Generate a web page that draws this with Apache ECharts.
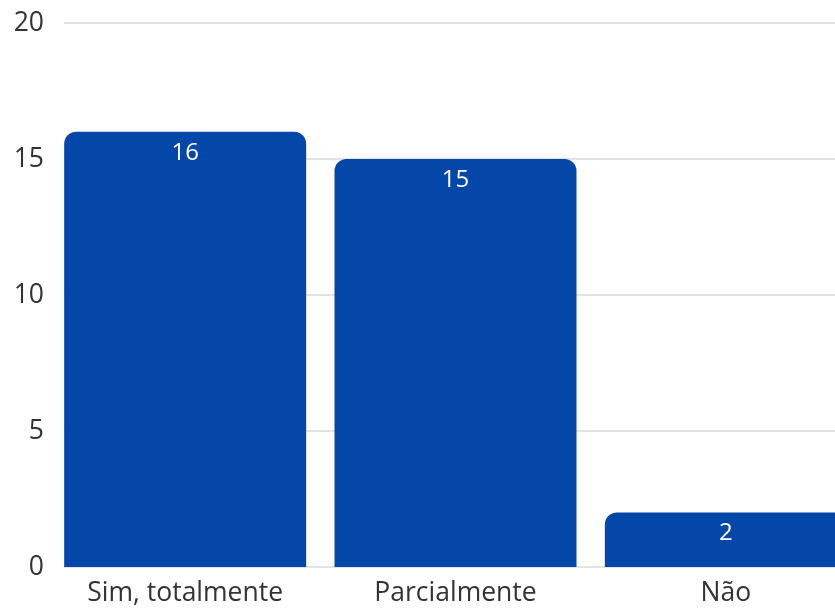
<!DOCTYPE html>
<html>
<head>
<meta charset="utf-8">
<script src="https://cdn.jsdelivr.net/npm/echarts@6/dist/echarts.min.js"></script>
<style>html,body{margin:0;padding:0;background:#fff;overflow:hidden}#c{width:861px;height:608px}</style>
</head>
<body>
<div id="c"></div>
<script>
const categories = ['Sim, totalmente', 'Parcialmente', 'Não'];
const values = [16, 15, 2];
const yTicks = [0, 5, 10, 15, 20];

const chart = echarts.init(document.getElementById('c'), null, {renderer: 'canvas'});
const font = '"Open Sans", "Noto Sans", sans-serif';
chart.setOption({
  animation: false,
  grid: [
    {left: 64, right: 0, top: 23, bottom: 41},
    {left: 50, right: 0, top: 23, bottom: 41}
  ],
  xAxis: [
    {type: 'value', gridIndex: 0, show: false, min: 0, max: 1},
    {type: 'category', gridIndex: 1, data: categories,
     axisLine: {show: false}, axisTick: {show: false},
     axisLabel: {color: '#333', fontSize: 26.5, fontFamily: font, margin: 13}}
  ],
  yAxis: [
    {type: 'value', gridIndex: 0, min: yTicks[0], max: yTicks[yTicks.length - 1], interval: 5,
     axisLine: {show: false}, axisTick: {show: false},
     axisLabel: {color: '#333', fontSize: 26.5, fontFamily: font, margin: 20},
     splitLine: {lineStyle: {color: '#e3e3e3', width: 2}}},
    {type: 'value', gridIndex: 1, min: 0, max: 20, show: false, splitLine: {show: false}}
  ],
  series: [{
    type: 'bar',
    xAxisIndex: 1, yAxisIndex: 1,
    data: values,
    barWidth: 242,
    itemStyle: {color: '#0546A9', borderRadius: [12, 12, 0, 0]},
    label: {show: true, position: 'insideTop', distance: 9, color: '#fff', fontSize: 24, fontFamily: font}
  }]
});
</script>
</body>
</html>
